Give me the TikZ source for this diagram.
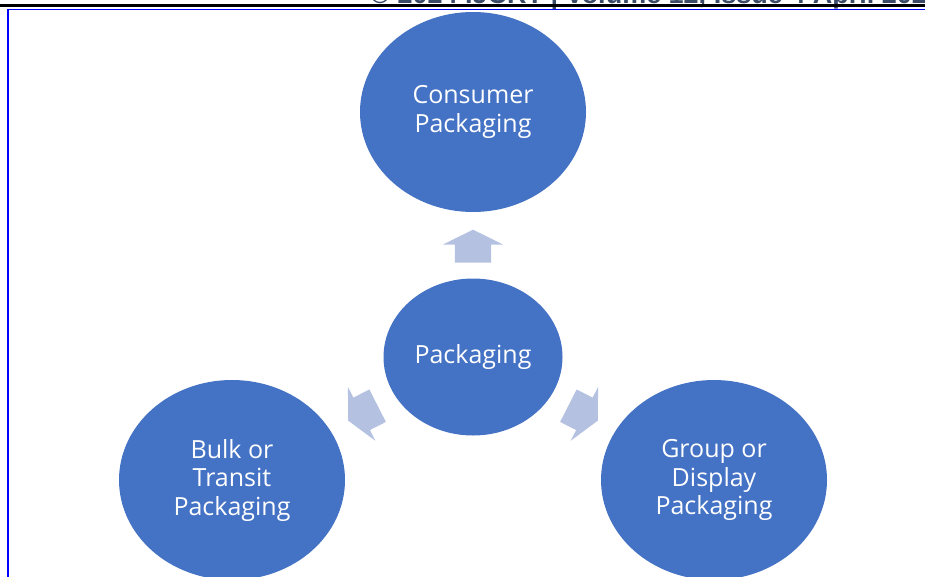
\documentclass[tikz,border=0pt]{standalone}
\usepackage{fontspec}
\setmainfont{Open Sans}
\newfontfamily\headfont{Liberation Sans}
\usetikzlibrary{shapes.geometric,shapes.arrows,calc}

\definecolor{circblue}{HTML}{4472C4}
\definecolor{arrblue}{HTML}{B4C1E1}
\definecolor{headgray}{HTML}{3B4A66}

\tikzset{
    bubble/.style={ellipse,fill=circblue,text=white,align=center,inner sep=0pt,
        font=\fontsize{25}{28.5}\selectfont},
    pointer/.style={single arrow,fill=arrblue,draw=none,minimum height=33pt,
        inner xsep=0pt,inner ysep=18pt,single arrow head extend=12pt,
        single arrow head indent=0pt,single arrow tip angle=127},
}

\begin{document}
\begin{tikzpicture}[x=1pt,y=-1pt]
    \useasboundingbox (0,0) rectangle (925,576);
    \clip (0,0) rectangle (925,576);
    % header and frame
    \node[anchor=base west,text=headgray,font=\headfont\bfseries\fontsize{27}{30}\selectfont,inner sep=0pt]
        (head) at (370,3.5) {© 2024 IJCRT | Volume 12, Issue 4 April 2024};
    \fill (0,4) rectangle (925,7);
    \draw[blue,line width=1.5pt] (8,600)--(8,9.3)--(930,9.3);
    % circles
    \node[bubble,minimum width=226pt,minimum height=200pt] (cons) at (473,112) {Consumer\\Packaging};
    \node[bubble,minimum width=179pt,minimum height=157pt] (pack) at (473,357) {Packaging};
    \node[bubble,minimum width=226pt,minimum height=200pt] (bulk) at (232,480) {Bulk or\\Transit\\Packaging};
    \node[bubble,minimum width=226pt,minimum height=200pt] (group) at (714,480) {Group or\\Display\\Packaging};
    % arrows
    \node[pointer,rotate=90] (up) at ($(pack)!0.434!(cons)$) {};
    \node[pointer,rotate=207] (left) at ($(pack)!0.44!(bulk)$) {};
    \node[pointer,rotate=-27] (right) at ($(pack)!0.44!(group)$) {};
\end{tikzpicture}
\end{document}
